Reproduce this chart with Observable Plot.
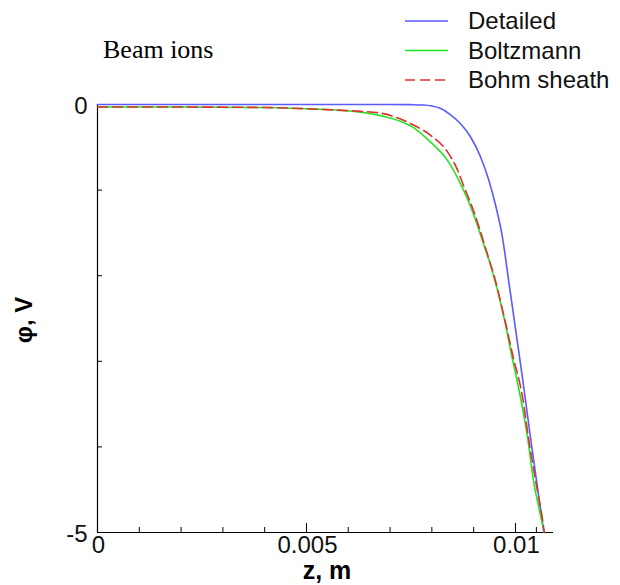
<!DOCTYPE html>
<html>
<head>
<meta charset="utf-8">
<script src="https://cdn.jsdelivr.net/npm/d3@7"></script>
<script src="https://cdn.jsdelivr.net/npm/@observablehq/plot@0.6"></script>
<style>
  html, body { margin: 0; padding: 0; background: #fff; }
  #chart { width: 620px; height: 585px; }
</style>
</head>
<body>
<div id="chart"></div>
<script>
// ---- data ----
const detailedZ   = [0, 0.002, 0.004, 0.006, 0.007, 0.0075, 0.0078, 0.008, 0.0082, 0.00844, 0.00868, 0.00892, 0.00916, 0.00935, 0.00952, 0.00969, 0.00983, 0.0100, 0.01017, 0.01033, 0.0105, 0.01068];
const detailedPhi = [0, 0, 0, 0, 0, -0.002, -0.006, -0.018, -0.045, -0.117, -0.222, -0.374, -0.607, -0.864, -1.168, -1.554, -2.033, -2.617, -3.201, -3.785, -4.381, -5.0];

const boltzZ   = [0, 0.002, 0.004, 0.005, 0.0057, 0.0063, 0.00677, 0.00756, 0.00797, 0.00837, 0.00864, 0.00885, 0.00904, 0.00923, 0.00943, 0.00974, 0.0099, 0.01012, 0.01029, 0.01043, 0.01056, 0.01069];
const boltzPhi = [-0.03, -0.03, -0.035, -0.05, -0.065, -0.09, -0.13, -0.27, -0.44, -0.65, -0.88, -1.1, -1.34, -1.62, -1.92, -2.52, -2.91, -3.42, -3.89, -4.39, -4.71, -5.0];

const bohmZ   = [0, 0.002, 0.004, 0.005, 0.0057, 0.0063, 0.00677, 0.00756, 0.00797, 0.00837, 0.00859, 0.00876, 0.00895, 0.00914, 0.00933, 0.0095, 0.00971, 0.00995, 0.01017, 0.01031, 0.01048, 0.01065, 0.01069];
const bohmPhi = [-0.03, -0.03, -0.035, -0.05, -0.065, -0.08, -0.1, -0.24, -0.36, -0.55, -0.74, -0.95, -1.18, -1.45, -1.75, -2.02, -2.44, -2.96, -3.42, -3.89, -4.39, -4.86, -5.0];

const seriesNames  = ["Detailed", "Boltzmann", "Bohm sheath"];
const seriesColors = ["#5a5aff", "#22e622", "#e03030"];

const xTickLabels = [0, 0.005, 0.01];
const xMajorTicks = [0.005, 0.01];
const xMinorTicks = [0.001, 0.002, 0.003, 0.004, 0.006, 0.007, 0.008, 0.009, 0.0105];
const yTickLabels = [0, -5];
const yMinorTicks = [-1, -2, -3, -4];

const xDomain = [0, 0.01091];
const yDomain = [-5, 0];

// ---- build tables ----
const toRows = (zs, ps) => zs.map((z, i) => ({z, phi: ps[i]}));
const detailed = toRows(detailedZ, detailedPhi);
const boltz = toRows(boltzZ, boltzPhi);
const bohm = toRows(bohmZ, bohmPhi);

const W = 620, H = 585;
const mL = 97, mR = 67, mT = 104, mB = 53;
const frameW = W - mL - mR, frameH = H - mT - mB;
const font = "Arial, 'Liberation Sans', sans-serif";

const plot = Plot.plot({
  width: W, height: H,
  marginLeft: mL, marginRight: mR, marginTop: mT, marginBottom: mB,
  x: {domain: xDomain, axis: null},
  y: {domain: yDomain, axis: null},
  style: {fontFamily: font, background: "#fff", overflow: "visible"},
  marks: [
    // axis lines
    Plot.ruleY([yDomain[0]], {stroke: "#000", strokeWidth: 1.2}),
    Plot.ruleX([xDomain[0]], {stroke: "#000", strokeWidth: 1.2}),
    // inward ticks
    Plot.tickX(xMinorTicks, {x: d => d, insetTop: frameH - 5, stroke: "#000"}),
    Plot.tickX(xMajorTicks, {x: d => d, insetTop: frameH - 9, stroke: "#000"}),
    Plot.tickY(yMinorTicks, {y: d => d, insetRight: frameW - 5, stroke: "#000"}),
    // tick labels
    Plot.text(xTickLabels, {x: d => d, text: d => String(d), frameAnchor: "bottom", dy: 13, lineAnchor: "middle",
      fontSize: 24, fill: "#111", dx: 1}),
    Plot.text(yTickLabels, {y: d => d, text: d => String(d), frameAnchor: "left", dx: -10, textAnchor: "end",
      lineAnchor: "middle", fontSize: 24, fill: "#111", dy: 2}),
    // curves
    Plot.line(detailed, {x: "z", y: "phi", stroke: seriesColors[0], strokeWidth: 1.6, curve: "monotone-x"}),
    Plot.line(boltz, {x: "z", y: "phi", stroke: seriesColors[1], strokeWidth: 1.6, curve: "monotone-x"}),
    Plot.line(bohm, {x: "z", y: "phi", stroke: seriesColors[2], strokeWidth: 1.6, strokeDasharray: "10,5", curve: "monotone-x"})
  ]
});

const svg = d3.select(plot);
// legend
seriesNames.forEach((name, i) => {
  const y = 21 + i * 29.5;
  svg.append("line").attr("x1", 405).attr("x2", 448).attr("y1", y).attr("y2", y)
    .attr("stroke", seriesColors[i]).attr("stroke-width", 1.6)
    .attr("stroke-dasharray", i === 2 ? "10,5" : null);
  svg.append("text").attr("x", 468).attr("y", y).attr("dy", "0.35em").attr("text-anchor", "start")
    .attr("font-family", font).attr("font-size", 24).attr("fill", "#111").text(name);
});
// title-like label
svg.append("text").attr("x", 103).attr("y", 58).attr("text-anchor", "start")
  .attr("font-family", "'Liberation Serif', 'Times New Roman', serif").attr("font-size", 26)
  .attr("fill", "#000").text("Beam ions");
// axis titles
svg.append("text").attr("x", 327).attr("y", 579).attr("text-anchor", "middle")
  .attr("font-family", font).attr("font-weight", "bold").attr("font-size", 25)
  .attr("fill", "#000").text("z, m");
svg.append("text").attr("transform", "translate(24,320) rotate(-90)").attr("text-anchor", "middle")
  .attr("dy", "0.35em")
  .attr("font-family", font).attr("font-weight", "bold").attr("font-size", 24)
  .attr("fill", "#000").text("φ, V");

document.getElementById("chart").appendChild(plot);
</script>
</body>
</html>
